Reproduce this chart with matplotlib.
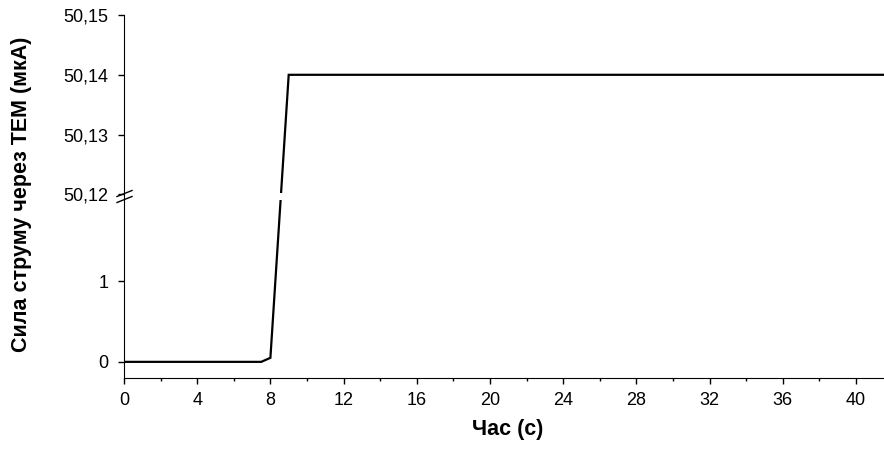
import numpy as np
import matplotlib.pyplot as plt
from matplotlib.ticker import MultipleLocator, FuncFormatter

plt.rcParams['font.family'] = ['Liberation Sans', 'DejaVu Sans']

# data
time = [0, 7.5, 8, 9, 42]
current = [0, 0, 0.05, 50.14, 50.14]

x_ticks = [0, 4, 8, 12, 16, 20, 24, 28, 32, 36, 40]
y_ticks = [0, 1, 50.12, 50.13, 50.14, 50.15]

# broken y axis: lower part -0.2..2.037, upper part 50.1195..50.15
LOW_TOP = 2.037
HIGH_BOT = 50.1195
K = 6000 / 81  # upper segment is stretched relative to lower one

def fwd(y):
    y = np.asarray(y, dtype=float)
    return np.where(y < 25, y, LOW_TOP + (y - HIGH_BOT) * K)

def inv(u):
    u = np.asarray(u, dtype=float)
    return np.where(u < LOW_TOP, u, HIGH_BOT + (u - LOW_TOP) / K)

def fmt(v, p):
    if v < 25:
        return f"{v:.0f}"
    return f"{v:.2f}".replace('.', ',')

W, H = 884, 450
fig = plt.figure(figsize=(8.84, 4.5), dpi=100)
ax = fig.add_axes([124 / W, 1 - 378 / H, (884 - 124) / W, (378 - 15) / H])

ax.plot(time, current, color='black', lw=1.6, solid_joinstyle='miter', zorder=2)

ax.set_yscale('function', functions=(fwd, inv))
ax.set_ylim(-0.2, 50.15)
ax.set_xlim(0, 41.53)
ax.set_yticks(y_ticks)
ax.yaxis.set_major_formatter(FuncFormatter(fmt))
ax.yaxis.set_minor_locator(plt.NullLocator())
ax.set_xticks(x_ticks)
ax.xaxis.set_minor_locator(MultipleLocator(2))

ax.spines['right'].set_visible(False)
ax.spines['top'].set_visible(False)
ax.tick_params(direction='out', length=4.3, width=1, labelsize=13)
ax.tick_params(which='minor', direction='out', length=2.5, width=1)
ax.tick_params(axis='x', pad=5.5)
ax.tick_params(axis='y', pad=7)

# white band over the line at the break
ax.axhspan(2.0, 50.12017, color='white', lw=0, zorder=2.2)

# break marks on the y axis
for yc in (193.5, 199.5):
    fig.add_artist(plt.Line2D([117 / W, 132 / W],
                              [1 - (yc + 3) / H, 1 - (yc - 3) / H],
                              color='black', lw=1))

fig.text(508 / W, 1 - 430 / H, "Час (с)", ha='center', va='center',
         fontsize=15.5, fontweight='bold')
fig.text(22 / W, 1 - 194 / H, "Сила струму через ТЕМ (мкА)", rotation=90,
         ha='center', va='center', fontsize=15.5, fontweight='bold')

fig.savefig("out.png", dpi=100)
